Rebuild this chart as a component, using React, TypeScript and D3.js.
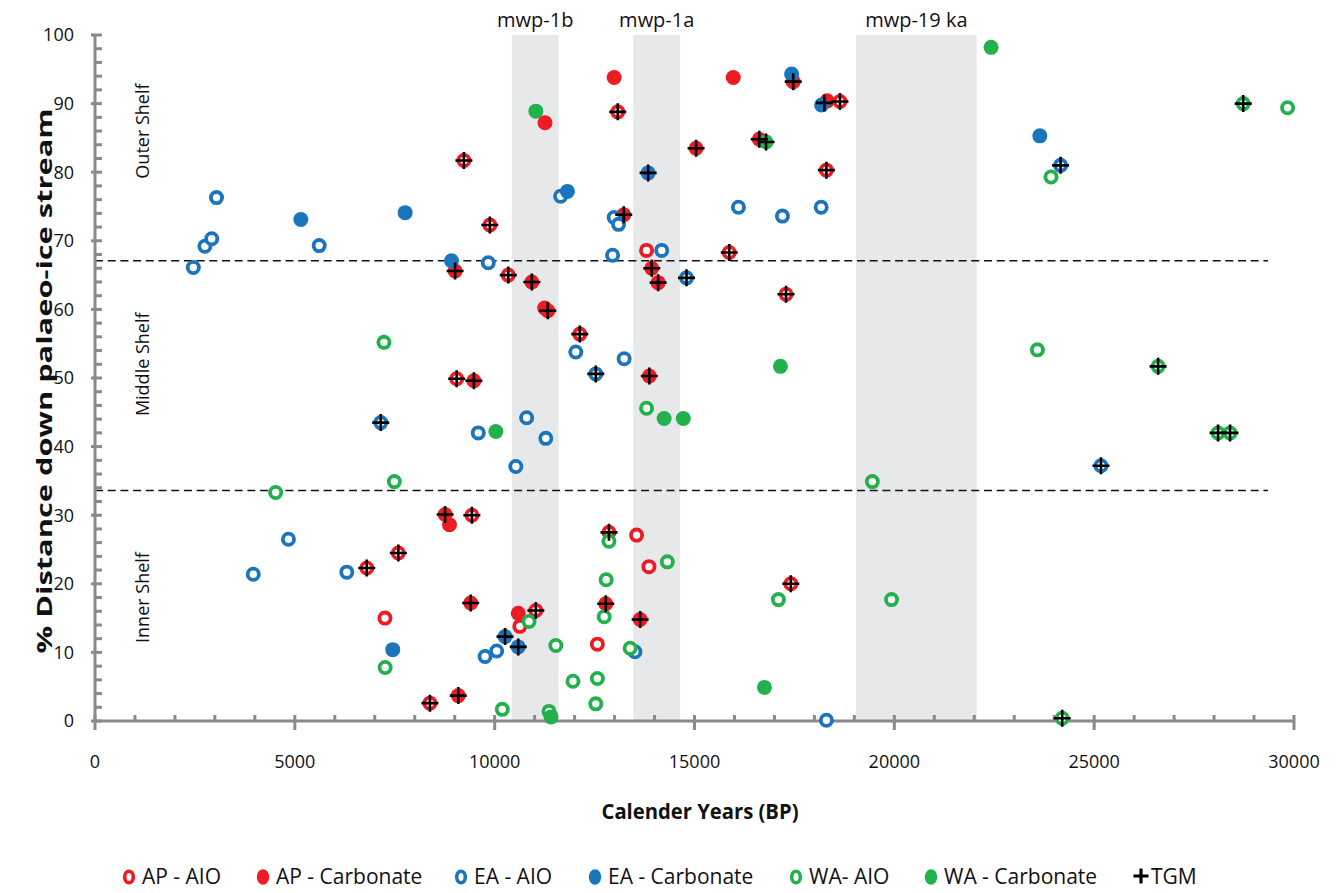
import React, { useEffect, useRef } from "react";
import * as d3 from "d3";

// [calendar years BP, % distance down palaeo-ice stream]
const apAIO: [number, number][] = [
	[13800, 68.6], [13550, 27.1], [13860, 22.5], [12570, 11.2], [10630, 13.8], [7255, 15.0],
	[9230, 81.7], [9880, 72.3], [13080, 88.8], [10340, 65.0], [15870, 68.3], [18300, 80.3],
	[18640, 90.3], [17290, 62.2], [9050, 49.9], [9430, 30.0], [12130, 56.4], [12860, 27.5],
	[6800, 22.3], [7590, 24.5], [8380, 2.6], [11030, 16.1], [17410, 20.0],
];
const apCarb: [number, number][] = [
	[12990, 93.8], [15970, 93.8], [11260, 87.2], [8870, 28.6], [11250, 60.2], [10590, 15.7],
	[10930, 64.0], [13230, 73.8], [13930, 66.0], [14090, 63.9], [15040, 83.5], [16620, 84.8],
	[17470, 93.2], [18320, 90.4], [9480, 49.6], [8760, 30.1], [11330, 59.8], [13870, 50.3],
	[9400, 17.2], [9090, 3.7], [12780, 17.1], [13640, 14.8], [9010, 65.6],
];
const eaAIO: [number, number][] = [
	[2460, 66.1], [2750, 69.2], [2920, 70.3], [3040, 76.3], [5610, 69.3], [9840, 66.8],
	[11650, 76.5], [12990, 73.4], [13100, 72.4], [12950, 67.9], [14180, 68.6], [16100, 74.9],
	[17200, 73.6], [18170, 74.9], [12030, 53.8], [13240, 52.8], [9590, 42.0], [10800, 44.2],
	[11280, 41.2], [10530, 37.1], [4840, 26.5], [3960, 21.4], [6300, 21.7], [10050, 10.2],
	[9760, 9.4], [13510, 10.1], [18300, 0.1],
	[14800, 64.6], [24160, 81.0], [7150, 43.5], [12530, 50.6], [25170, 37.2],
];
const eaCarb: [number, number][] = [
	[5150, 73.1], [7760, 74.1], [8920, 67.1], [11820, 77.2], [17430, 94.3], [23640, 85.3],
	[7450, 10.4], [13840, 79.9], [18180, 89.8], [10260, 12.3], [10590, 10.8],
];
const waAIO: [number, number][] = [
	[23920, 79.3], [29840, 89.4], [7230, 55.2], [7490, 34.9], [4520, 33.3], [13800, 45.6],
	[19450, 34.9], [23580, 54.1], [12860, 26.2], [14320, 23.2], [12790, 20.6], [12740, 15.2],
	[10860, 14.5], [11530, 11.0], [13390, 10.6], [17100, 17.7], [19930, 17.7], [11960, 5.8],
	[12570, 6.2], [12530, 2.5], [10190, 1.7], [11360, 1.4], [7260, 7.8],
	[28730, 90.0], [26600, 51.7], [28100, 42.0], [28400, 42.0], [24200, 0.4],
];
const waCarb: [number, number][] = [
	[22420, 98.2], [11030, 88.9], [16790, 84.4], [17150, 51.7], [14240, 44.1], [14720, 44.1],
	[10030, 42.2], [16750, 4.9], [11410, 0.6],
];
const tgm: [number, number][] = [
	[9230, 81.7], [9880, 72.3], [13080, 88.8], [10340, 65.0], [15870, 68.3], [18300, 80.3],
	[18640, 90.3], [17290, 62.2], [9050, 49.9], [9430, 30.0], [12130, 56.4], [12860, 27.5],
	[6800, 22.3], [7590, 24.5], [8380, 2.6], [11030, 16.1], [17410, 20.0],
	[10930, 64.0], [13230, 73.8], [13930, 66.0], [14090, 63.9], [15040, 83.5], [16620, 84.8],
	[17470, 93.2], [18250, 90.1], [9480, 49.6], [8760, 30.1], [11330, 59.8], [13870, 50.3],
	[9400, 17.2], [9090, 3.7], [12780, 17.1], [13640, 14.8], [9010, 65.6],
	[14800, 64.6], [24160, 81.0], [7150, 43.5], [12530, 50.6], [25170, 37.2],
	[13840, 79.9], [10260, 12.3], [10590, 10.8],
	[28730, 90.0], [26600, 51.7], [28100, 42.0], [28400, 42.0], [24200, 0.4],
	[16790, 84.4],
];

// meltwater pulses
const bands = [
	{ label: "mwp-1b", from: 10430, to: 11600 },
	{ label: "mwp-1a", from: 13470, to: 14640 },
	{ label: "mwp-19 ka", from: 19040, to: 22060 },
];
const shelfBreaks = [67.1, 33.6];
const shelfLabels = [
	{ label: "Outer Shelf", y: 86 },
	{ label: "Middle Shelf", y: 52 },
	{ label: "Inner Shelf", y: 18 },
];

const RED = "#ed1c24", BLUE = "#1b75bc", GREEN = "#22b14c";
const series = [
	{ name: "AP - AIO", data: apAIO, color: RED, open: true },
	{ name: "AP - Carbonate", data: apCarb, color: RED, open: false },
	{ name: "EA - AIO", data: eaAIO, color: BLUE, open: true },
	{ name: "EA - Carbonate", data: eaCarb, color: BLUE, open: false },
	{ name: "WA- AIO", data: waAIO, color: GREEN, open: true },
	{ name: "WA - Carbonate", data: waCarb, color: GREEN, open: false },
];
const legendX = [129, 263, 461, 595, 796, 931, 1141];

const FONT = "'Open Sans', sans-serif";
const AXIS = "#8a8a8a";

export default function App() {
	const ref = useRef<SVGSVGElement>(null);

	useEffect(() => {
		const svg = d3.select(ref.current);
		svg.selectAll("*").remove();

		const x = d3.scaleLinear().domain([0, 30000]).range([95, 1294]);
		const y = d3.scaleLinear().domain([0, 100]).range([721, 35]);

		// shaded pulses
		bands.forEach((b) => {
			svg.append("rect")
				.attr("x", x(b.from)).attr("y", y(100))
				.attr("width", x(b.to) - x(b.from)).attr("height", y(0) - y(100))
				.attr("fill", "#e7e8ea");
			svg.append("text")
				.attr("x", (x(b.from) + x(b.to)) / 2).attr("y", 27)
				.attr("text-anchor", "middle")
				.style("font", `20px ${FONT}`).attr("fill", "#111")
				.text(b.label);
		});

		// shelf boundaries
		shelfBreaks.forEach((v) => {
			svg.append("line")
				.attr("x1", x(0)).attr("x2", x(29350))
				.attr("y1", y(v)).attr("y2", y(v))
				.attr("stroke", "#111").attr("stroke-width", 1.6)
				.attr("stroke-dasharray", "8,4.7");
		});
		shelfLabels.forEach((s) => {
			svg.append("text")
				.attr("transform", `translate(${x(1200)},${y(s.y)}) rotate(-90)`)
				.attr("text-anchor", "middle").attr("dy", "0.35em")
				.style("font", `18px ${FONT}`).attr("fill", "#111")
				.text(s.label);
		});

		// axes
		const ax = svg.append("g").attr("stroke", AXIS).attr("stroke-width", 3);
		d3.range(0, 101, 2).forEach((v) => {
			const major = v % 10 === 0;
			ax.append("line")
				.attr("x1", major ? x(0) - 4 : x(0)).attr("x2", x(0) + 7)
				.attr("y1", y(v)).attr("y2", y(v));
		});
		d3.range(0, 30001, 1000).forEach((v) => {
			const major = v % 5000 === 0;
			ax.append("line")
				.attr("x1", x(v)).attr("x2", x(v))
				.attr("y1", y(0) - 6).attr("y2", major ? y(0) + 9 : y(0));
		});
		ax.append("line").attr("x1", x(0)).attr("x2", x(0)).attr("y1", y(100)).attr("y2", y(0));
		ax.append("line").attr("x1", x(0)).attr("x2", x(30000)).attr("y1", y(0)).attr("y2", y(0));

		svg.append("g").selectAll("text")
			.data(d3.range(0, 101, 10)).enter().append("text")
			.attr("x", 74).attr("y", (d) => y(d)).attr("dy", "0.35em")
			.attr("text-anchor", "end")
			.style("font", `18px ${FONT}`).attr("fill", "#111")
			.text((d) => d);
		svg.append("g").selectAll("text")
			.data(d3.range(0, 30001, 5000)).enter().append("text")
			.attr("x", (d) => x(d)).attr("y", 762).attr("dy", "0.35em")
			.attr("text-anchor", "middle")
			.style("font", `18px ${FONT}`).attr("fill", "#111")
			.text((d) => d);

		svg.append("text")
			.attr("x", 700).attr("y", 812).attr("dy", "0.35em")
			.attr("text-anchor", "middle")
			.attr("textLength", 197).attr("lengthAdjust", "spacingAndGlyphs")
			.style("font", `bold 21px ${FONT}`).attr("fill", "#111")
			.text("Calender Years (BP)");
		svg.append("text")
			.attr("transform", `translate(45,${(y(0) + y(100)) / 2 + 3}) rotate(-90)`)
			.attr("text-anchor", "middle").attr("dy", "0.35em")
			.attr("textLength", 545).attr("lengthAdjust", "spacingAndGlyphs")
			.style("font", `bold 21px ${FONT}`).attr("fill", "#111")
			.text("% Distance down palaeo-ice stream");

		// points
		series.forEach((s) => {
			svg.append("g").selectAll("circle")
				.data(s.data).enter().append("circle")
				.attr("cx", (d) => x(d[0])).attr("cy", (d) => y(d[1]))
				.attr("r", s.open ? 5.6 : 7.5)
				.attr("fill", s.open ? "#fff" : s.color)
				.attr("stroke", s.open ? s.color : "none")
				.attr("stroke-width", 3.8);
		});
		const plus = (px: number, py: number, h: number) =>
			`M${px - h},${py}H${px + h}M${px},${py - h}V${py + h}`;
		svg.append("g").selectAll("path")
			.data(tgm).enter().append("path")
			.attr("d", (d) => plus(x(d[0]), y(d[1]), 8.5))
			.attr("stroke", "#000").attr("stroke-width", 2.6).attr("fill", "none");

		// legend
		const ly = 877;
		series.forEach((s, i) => {
			const lx = legendX[i];
			svg.append("ellipse")
				.attr("cx", lx).attr("cy", ly)
				.attr("rx", s.open ? 4.3 : 6.2).attr("ry", s.open ? 5.8 : 7.8)
				.attr("fill", s.open ? "#fff" : s.color)
				.attr("stroke", s.open ? s.color : "none").attr("stroke-width", 3.6);
			svg.append("text")
				.attr("x", lx + 13).attr("y", ly).attr("dy", "0.35em")
				.style("font", `21px ${FONT}`).attr("fill", "#111")
				.text(s.name);
		});
		const tx = legendX[6];
		svg.append("path").attr("d", plus(tx, ly - 1, 7.5))
			.attr("stroke", "#000").attr("stroke-width", 3.2);
		svg.append("text")
			.attr("x", tx + 10).attr("y", ly).attr("dy", "0.35em")
			.style("font", `21px ${FONT}`).attr("fill", "#111")
			.text("TGM");
	}, []);

	return (
		<svg
			ref={ref}
			width={1344}
			height={893}
			style={{ position: "absolute", left: 0, top: 0, background: "#fff" }}
		/>
	);
}
